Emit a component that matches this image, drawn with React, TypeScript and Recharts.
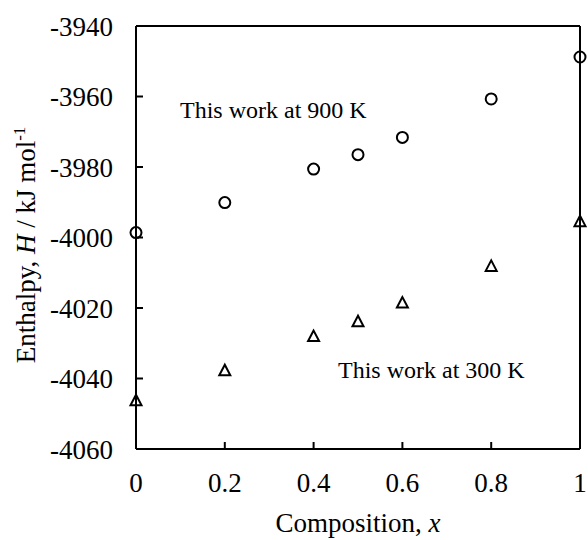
import React from 'react';
import { ScatterChart, Scatter, XAxis, YAxis, ReferenceLine, Customized } from 'recharts';

const compositions = [0, 0.2, 0.4, 0.5, 0.6, 0.8, 1];
const enthalpy900K = [-3998.6, -3990.1, -3980.6, -3976.5, -3971.6, -3960.7, -3948.8];
const enthalpy300K = [-4046.3, -4037.8, -4028.1, -4023.9, -4018.6, -4008.2, -3995.5];
const xTicks = [0, 0.2, 0.4, 0.6, 0.8, 1];
const yTicks = [-4060, -4040, -4020, -4000, -3980, -3960, -3940];

const data900 = compositions.map((x, i) => ({ x, h: enthalpy900K[i] }));
const data300 = compositions.map((x, i) => ({ x, h: enthalpy300K[i] }));

const FONT = '"Liberation Serif", "Times New Roman", serif';
const AXIS_FS = 27;
const NOTE_FS = 24;

const CircleShape = (props: any) => {
  const { cx, cy } = props;
  return <circle cx={cx} cy={cy} r={5.5} fill="none" stroke="#000" strokeWidth={2} />;
};

const TriangleShape = (props: any) => {
  const { cx, cy } = props;
  const pts = `${cx},${cy - 6} ${cx - 5.5},${cy + 4.5} ${cx + 5.5},${cy + 4.5}`;
  return <polygon points={pts} fill="none" stroke="#000" strokeWidth={2} strokeLinejoin="miter" />;
};

const XTick = (props: any) => {
  const { x, y, payload } = props;
  return (
    <g>
      <text
        x={x}
        y={y}
        dy={19}
        textAnchor="middle"
        fill="#000"
        style={{ fontFamily: FONT, fontSize: AXIS_FS }}
      >
        {String(payload.value)}
      </text>
    </g>
  );
};

const YTick = (props: any) => {
  const { x, y, payload } = props;
  return (
    <g>
      <text
        x={x}
        y={y}
        dy={9.5}
        textAnchor="end"
        fill="#000"
        style={{ fontFamily: FONT, fontSize: AXIS_FS }}
      >
        {String(payload.value)}
      </text>
    </g>
  );
};

const Annotations = () => (
  <g fill="#000" style={{ fontFamily: FONT }}>
    <text x={180} y={118} fontSize={NOTE_FS}>This work at 900 K</text>
    <text x={338} y={378} fontSize={NOTE_FS}>This work at 300 K</text>
    <text x={358} y={532} fontSize={AXIS_FS} textAnchor="middle">
      Composition, <tspan fontStyle="italic">x</tspan>
    </text>
    <text x={35} y={245} fontSize={AXIS_FS} textAnchor="middle" transform="rotate(-90, 35, 245)">
      Enthalpy, <tspan fontStyle="italic">H</tspan> / kJ mol<tspan fontSize={17} dy={-10}>-1</tspan>
    </text>
  </g>
);

const lineStyle = { stroke: '#000', strokeWidth: 2 };

export default function App() {
  return (
    <div style={{ position: 'absolute', left: 0, top: 0, background: '#fff', fontFamily: FONT }}>
      <ScatterChart
        width={588}
        height={540}
        margin={{ top: 26, right: 8, bottom: 0, left: 0 }}
        style={{ fontFamily: FONT }}
      >
        <XAxis
          type="number"
          dataKey="x"
          domain={[0, 1]}
          ticks={xTicks}
          tick={<XTick />}
          tickSize={-7}
          tickMargin={31}
          tickLine={lineStyle}
          axisLine={lineStyle}
          height={91}
          interval={0}
          fontFamily={FONT}
        />
        <YAxis
          type="number"
          dataKey="h"
          domain={[-4060, -3940]}
          ticks={yTicks}
          tick={<YTick />}
          tickSize={-7}
          tickMargin={30}
          tickLine={lineStyle}
          axisLine={lineStyle}
          width={136}
          interval={0}
          fontFamily={FONT}
        />
        <ReferenceLine y={-3940} stroke="#000" strokeWidth={2} ifOverflow="visible" />
        <ReferenceLine x={1} stroke="#000" strokeWidth={2} ifOverflow="visible" />
        <Scatter data={data900} dataKey="h" shape={CircleShape} isAnimationActive={false} />
        <Scatter data={data300} dataKey="h" shape={TriangleShape} isAnimationActive={false} />
        <Customized component={Annotations} />
      </ScatterChart>
    </div>
  );
}
